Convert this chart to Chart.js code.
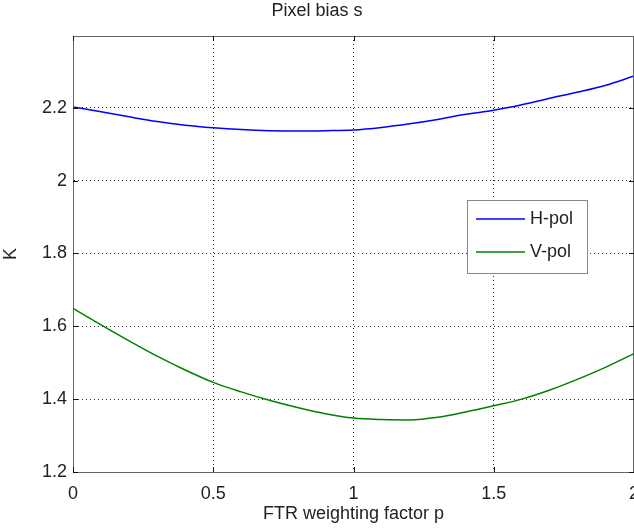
<!DOCTYPE html>
<html lang="en">

<head>
    <meta charset="UTF-8">
    <title>Pixel bias s</title>
    <style>
        html,
        body {
            margin: 0;
            padding: 0;
            background: #ffffff;
        }

        #biasCanvas {
            display: block;
        }
    </style>
</head>

<body>
    <canvas id="biasCanvas" width="634" height="531"></canvas>

    <script src="https://cdn.jsdelivr.net/npm/chart.js"></script>

    <script>
        // FTR weighting factor p (x values)
        const pValues = [0, 0.1, 0.2, 0.3, 0.4, 0.5, 0.6, 0.7, 0.8, 0.9, 1.0,
            1.1, 1.2, 1.3, 1.4, 1.5, 1.6, 1.7, 1.8, 1.9, 2.0];

        // pixel bias in K
        const hPol = [2.202, 2.189, 2.175, 2.162, 2.152, 2.145, 2.140, 2.137, 2.136, 2.137, 2.139,
            2.146, 2.156, 2.168, 2.182, 2.193, 2.208, 2.226, 2.243, 2.262, 2.287];
        const vPol = [1.649, 1.604, 1.560, 1.518, 1.480, 1.446, 1.420, 1.397, 1.377, 1.360, 1.348,
            1.344, 1.343, 1.350, 1.365, 1.382, 1.400, 1.425, 1.455, 1.488, 1.525];

        const xTicks = [0, 0.5, 1, 1.5, 2];
        const yTicks = [1.2, 1.4, 1.6, 1.8, 2.0, 2.2];
        const seriesLabels = ['H-pol', 'V-pol'];

        const FONT = 'Liberation Sans, Arial, Helvetica, sans-serif';
        const TEXT = '#222222';

        function toPoints(ys) {
            return pValues.map((p, i) => ({ x: p, y: ys[i] }));
        }

        // frame round the plot plus inward tick marks (MATLAB style)
        const framePlugin = {
            id: 'frame',
            afterDatasetsDraw(chart) {
                const { ctx, chartArea: a, scales } = chart;
                ctx.save();
                ctx.strokeStyle = '#666666';
                ctx.lineWidth = 1;
                ctx.setLineDash([]);
                ctx.strokeRect(a.left + 0.5, a.top + 0.5, a.right - a.left - 1, a.bottom - a.top);
                ctx.strokeStyle = '#111111';
                const len = 5;
                xTicks.forEach(v => {
                    const x = Math.round(scales.x.getPixelForValue(v)) + 0.5;
                    ctx.beginPath();
                    ctx.moveTo(x, a.bottom); ctx.lineTo(x, a.bottom - len);
                    ctx.moveTo(x, a.top); ctx.lineTo(x, a.top + len);
                    ctx.stroke();
                });
                yTicks.forEach(v => {
                    const y = Math.round(scales.y.getPixelForValue(v)) + 0.5;
                    ctx.beginPath();
                    ctx.moveTo(a.left, y); ctx.lineTo(a.left + len, y);
                    ctx.moveTo(a.right, y); ctx.lineTo(a.right - len, y);
                    ctx.stroke();
                });
                ctx.restore();
            }
        };

        // boxed legend inside the plot, right of centre
        const boxLegendPlugin = {
            id: 'boxLegend',
            afterDraw(chart) {
                const { ctx, chartArea: a } = chart;
                const left = a.right - 167, top = 200, w = 120, h = 73;
                ctx.save();
                ctx.fillStyle = '#ffffff';
                ctx.fillRect(left, top, w, h);
                ctx.strokeStyle = '#888888';
                ctx.lineWidth = 1;
                ctx.strokeRect(left + 0.5, top + 0.5, w, h);
                ctx.font = '18px ' + FONT;
                ctx.textBaseline = 'middle';
                ctx.textAlign = 'left';
                chart.data.datasets.forEach((ds, i) => {
                    const y = top + 19 + i * 33;
                    ctx.strokeStyle = ds.borderColor;
                    ctx.lineWidth = 1.5;
                    ctx.beginPath();
                    ctx.moveTo(left + 9, y);
                    ctx.lineTo(left + 58, y);
                    ctx.stroke();
                    ctx.fillStyle = TEXT;
                    ctx.fillText(ds.label, left + 63, y);
                });
                ctx.restore();
            }
        };

        const gridStyle = {
            color: 'rgba(0,0,0,0.8)',
            lineWidth: 1,
            drawTicks: false
        };

        const ctx = document.getElementById('biasCanvas').getContext('2d');
        const biasChart = new Chart(ctx, {
            type: 'line',
            data: {
                datasets: [{
                    label: seriesLabels[0],
                    data: toPoints(hPol),
                    borderColor: '#0000ff',
                    borderWidth: 1.5,
                    pointRadius: 0,
                    cubicInterpolationMode: 'monotone'
                }, {
                    label: seriesLabels[1],
                    data: toPoints(vPol),
                    borderColor: '#008000',
                    borderWidth: 1.5,
                    pointRadius: 0,
                    cubicInterpolationMode: 'monotone'
                }]
            },
            options: {
                responsive: false,
                animation: false,
                layout: { padding: 0 },
                scales: {
                    x: {
                        type: 'linear',
                        min: 0,
                        max: 2,
                        afterBuildTicks: s => { s.ticks = xTicks.map(v => ({ value: v })); },
                        afterFit: s => { s.height = 59; s.paddingLeft = 0; s.paddingRight = 0; },
                        grid: gridStyle,
                        border: { display: true, color: '#666666', dash: [1, 3] },
                        ticks: {
                            padding: 11,
                            maxRotation: 0,
                            color: TEXT,
                            font: { family: FONT, size: 18 },
                            callback: v => String(v)
                        },
                        title: {
                            display: true,
                            text: 'FTR weighting factor p',
                            color: TEXT,
                            font: { family: FONT, size: 18 },
                            padding: { top: 0, bottom: 6 }
                        }
                    },
                    y: {
                        min: 1.2,
                        max: 2.397,
                        afterBuildTicks: s => { s.ticks = yTicks.map(v => ({ value: v })); },
                        afterFit: s => { s.width = 73; s.paddingTop = 0; s.paddingBottom = 0; },
                        grid: gridStyle,
                        border: { display: true, color: '#666666', dash: [1, 3] },
                        ticks: {
                            padding: 6,
                            color: TEXT,
                            font: { family: FONT, size: 18 },
                            callback: v => (v === 2 ? '2' : v.toFixed(1))
                        },
                        title: {
                            display: true,
                            text: 'K',
                            color: TEXT,
                            font: { family: FONT, size: 18 },
                            padding: { top: 0, bottom: 0 }
                        }
                    }
                },
                plugins: {
                    legend: { display: false },
                    tooltip: { enabled: false },
                    title: {
                        display: true,
                        text: 'Pixel bias s',
                        color: TEXT,
                        font: { family: FONT, size: 18, weight: 'normal' },
                        padding: { top: 0, bottom: 14.4 }
                    }
                }
            },
            plugins: [framePlugin, boxLegendPlugin]
        });
    </script>
</body>

</html>
